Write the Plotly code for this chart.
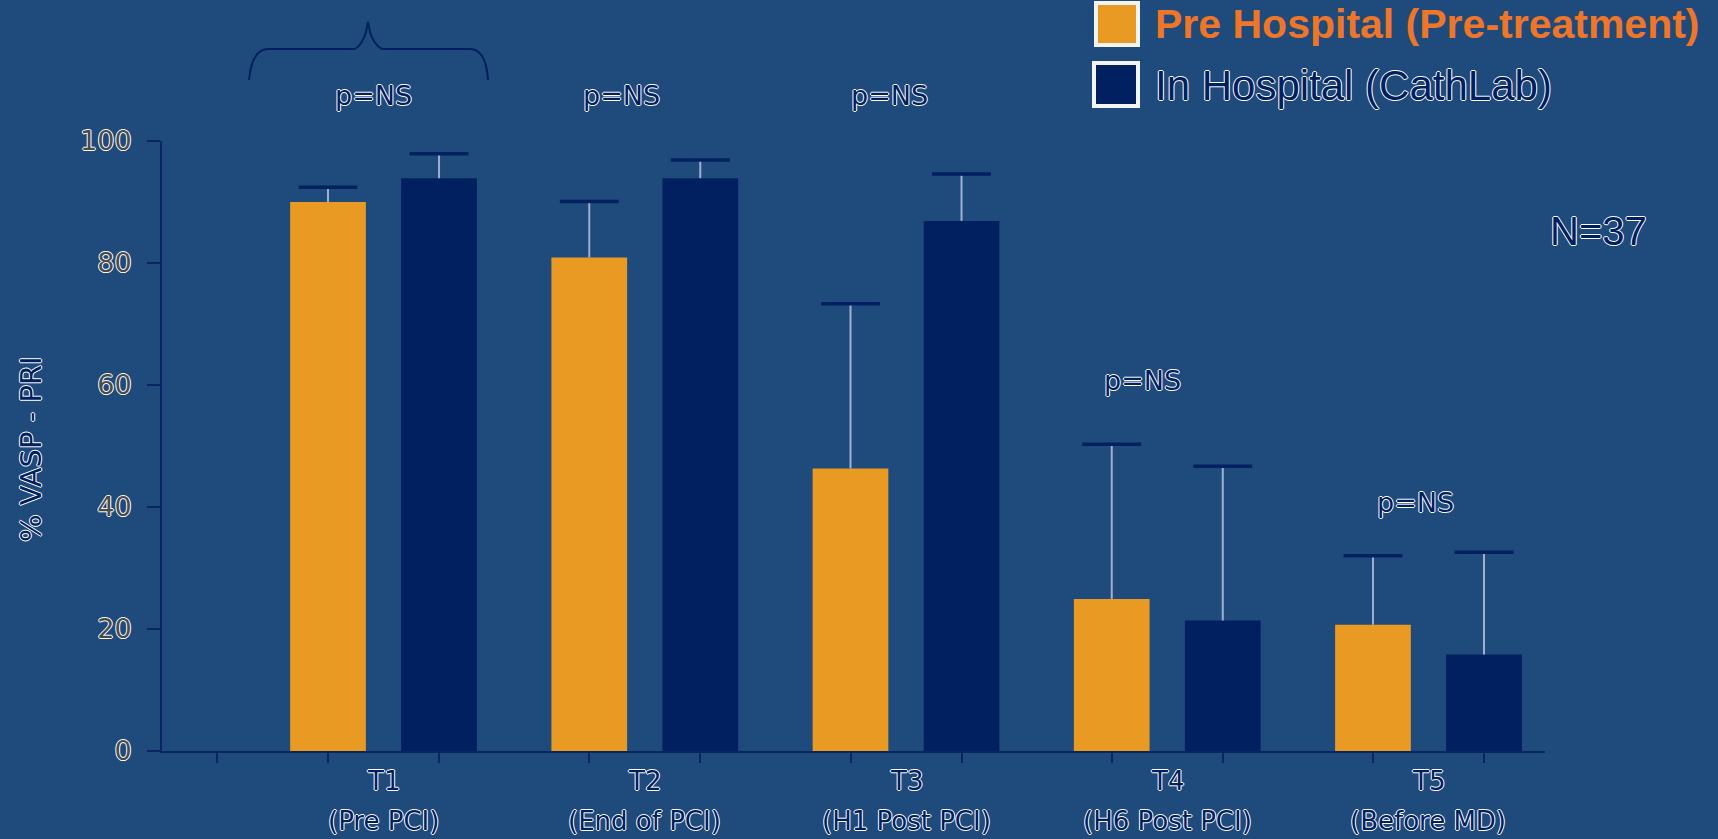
import plotly.graph_objects as go

# ---- data -------------------------------------------------------------
groups = ["T1", "T2", "T3", "T4", "T5"]
group_notes = ["(Pre PCI)", "(End of PCI)", "(H1 Post PCI)", "(H6 Post PCI)", "(Before MD)"]

pre_hospital = [90.0, 80.9, 46.3, 24.9, 20.7]
pre_hospital_sd = [2.4, 9.2, 27.0, 25.4, 11.3]

in_hospital = [93.9, 93.9, 86.9, 21.4, 15.8]
in_hospital_sd = [4.0, 3.0, 7.7, 25.3, 16.8]

p_labels = ["p=NS", "p=NS", "p=NS", "p=NS", "p=NS"]
p_label_y = [107.4, 107.4, 107.4, 60.7, 40.8]
p_label_dx = [-0.04, -0.09, -0.065, -0.095, -0.05]

y_ticks = [0, 20, 40, 60, 80, 100]

# ---- style ------------------------------------------------------------
W, H = 1718, 839
L, R, T, B = 162, 173, 141, 88
BG = "#1F4A7C"
ORANGE = "#E99A23"
NAVY = "#00205F"
AXIS = "#0A2563"
STEM = "#9FB0CF"
OUTLINE = "1px 0 0 #ffffff, -1px 0 0 #ffffff, 0 1px 0 #ffffff, 0 -1px 0 #ffffff"
FONT = "DejaVu Sans"

BARGAP = 0.15
GROUPGAP = 0.318
SLOT = (1 - BARGAP) / 2          # distance between the two bar centres

pw, ph = W - L - R, H - T - B


def px(xp):
    return (xp - L) / pw


def py(yp):
    return (H - B - yp) / ph


xs = list(range(len(groups)))
pre_x = [i - SLOT / 2 for i in xs]
in_x = [i + SLOT / 2 for i in xs]

fig = go.Figure()

fig.add_trace(go.Bar(
    x=xs, y=pre_hospital, name="Pre Hospital (Pre-treatment)",
    marker=dict(color=ORANGE, line=dict(width=0)),
))
fig.add_trace(go.Bar(
    x=xs, y=in_hospital, name="In Hospital (CathLab)",
    marker=dict(color=NAVY, line=dict(width=0)),
))

# upper error bars: light stem plus a navy cap at the top
for xpos, vals, sds in [(pre_x, pre_hospital, pre_hospital_sd),
                        (in_x, in_hospital, in_hospital_sd)]:
    fig.add_trace(go.Scatter(
        x=xpos, y=vals, mode="markers",
        marker=dict(size=1, opacity=0),
        error_y=dict(type="data", array=sds, symmetric=False,
                     arrayminus=[0] * len(sds), color=STEM, thickness=2, width=0),
        hoverinfo="skip", showlegend=False,
    ))
    fig.add_trace(go.Scatter(
        x=xpos, y=[v + s for v, s in zip(vals, sds)], mode="markers",
        marker=dict(symbol="line-ew", size=42, line=dict(color=NAVY, width=3.5)),
        hoverinfo="skip", showlegend=False,
    ))

annotations = []

# category labels under the axis
for i, (g, note) in enumerate(zip(groups, group_notes)):
    annotations.append(dict(x=i, y=py(781), xref="x", yref="paper", text=g,
                            showarrow=False, xanchor="center", yanchor="middle",
                            font=dict(family=FONT, size=26, color=NAVY, shadow=OUTLINE)))
    annotations.append(dict(x=i, y=py(821), xref="x", yref="paper", text=note,
                            showarrow=False, xanchor="center", yanchor="middle",
                            font=dict(family=FONT, size=26, color=NAVY, shadow=OUTLINE)))

# significance labels (y given in axis units; axis spans 0-100)
for i, (lab, ly, dx) in enumerate(zip(p_labels, p_label_y, p_label_dx)):
    annotations.append(dict(x=i + dx, y=ly / 100, xref="x", yref="paper", text=lab,
                            showarrow=False, xanchor="center", yanchor="middle",
                            font=dict(family=FONT, size=27, color=NAVY, shadow=OUTLINE)))

# y-axis title
annotations.append(dict(x=px(31), y=py(449), xref="paper", yref="paper",
                        text="% VASP - PRI", textangle=-90, showarrow=False,
                        xanchor="center", yanchor="middle",
                        font=dict(family=FONT, size=29, color=NAVY, shadow=OUTLINE)))

# sample size
annotations.append(dict(x=px(1598), y=py(231), xref="paper", yref="paper",
                        text="N=37", showarrow=False, xanchor="center", yanchor="middle",
                        font=dict(family="Liberation Sans", size=40, color=NAVY, shadow=OUTLINE)))

# legend rows
annotations.append(dict(x=px(1153), y=py(24), xref="paper", yref="paper",
                        text="<b>Pre Hospital (Pre-treatment)</b>", showarrow=False,
                        xanchor="left", yanchor="middle",
                        font=dict(family="Liberation Sans", size=41, color="#EE7628")))
annotations.append(dict(x=px(1153), y=py(85), xref="paper", yref="paper",
                        text="In Hospital (CathLab)", showarrow=False,
                        xanchor="left", yanchor="middle",
                        font=dict(family="Liberation Sans", size=42, color=NAVY, shadow=OUTLINE)))

shapes = [
    dict(type="rect", xref="paper", yref="paper",
         x0=px(1096), x1=px(1138), y0=py(45), y1=py(3),
         fillcolor=ORANGE, line=dict(color="#F4F4F4", width=4)),
    dict(type="rect", xref="paper", yref="paper",
         x0=px(1094), x1=px(1138), y0=py(106), y1=py(63),
         fillcolor=NAVY, line=dict(color="#F4F4F4", width=4)),
    # brace over the first group
    dict(type="path", xref="paper", yref="paper",
         path=(f"M {px(249)},{py(80)} Q {px(252)},{py(49)} {px(268)},{py(49)} "
               f"L {px(355)},{py(49)} Q {px(362)},{py(45)} {px(366)},{py(32)} "
               f"L {px(368)},{py(22)} L {px(370)},{py(32)} "
               f"Q {px(374)},{py(45)} {px(382)},{py(49)} "
               f"L {px(470)},{py(49)} Q {px(486)},{py(49)} {px(488)},{py(80)}"),
         line=dict(color=NAVY, width=2)),
]

fig.update_layout(
    width=W, height=H,
    margin=dict(l=L, r=R, t=T, b=B, pad=0),
    paper_bgcolor=BG, plot_bgcolor=BG,
    barmode="group", bargap=BARGAP, bargroupgap=GROUPGAP,
    showlegend=False,
    annotations=annotations, shapes=shapes,
    xaxis=dict(range=[-0.848, 4.446], showgrid=False, zeroline=False,
               showline=True, linecolor=AXIS, linewidth=2,
               tickmode="array", tickvals=[-0.636] + sorted(pre_x + in_x),
               ticks="outside", ticklen=10, tickcolor=AXIS, tickwidth=1.5,
               showticklabels=False),
    yaxis=dict(range=[0, 100], showgrid=False, zeroline=False,
               showline=True, linecolor=AXIS, linewidth=2,
               tickmode="array", tickvals=y_ticks,
               ticks="outside", ticklen=13, tickcolor=AXIS, tickwidth=1.5,
               ticklabelstandoff=10,
               tickfont=dict(family=FONT, size=27, color="#4a4a4a", shadow=OUTLINE)),
)

fig.write_html("out.html")
